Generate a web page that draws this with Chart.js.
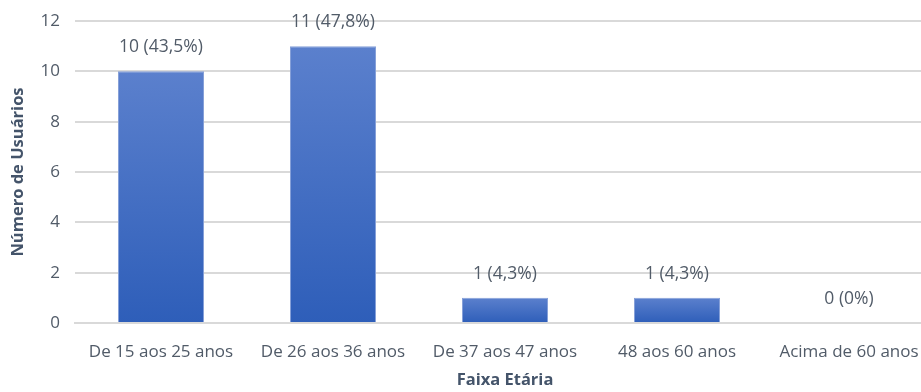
<!DOCTYPE html>
<html>
<head>
<meta charset="utf-8">
<script src="https://cdn.jsdelivr.net/npm/chart.js@4.4.0/dist/chart.umd.min.js"></script>
<style>
  html, body { margin: 0; padding: 0; background: #fff; overflow: hidden; }
  #wrap { width: 935px; height: 392px; }
</style>
</head>
<body>
<div id="wrap"><canvas id="faixaChart" width="935" height="392"></canvas></div>
<script>
// dados
var faixas = ['De 15 aos 25 anos', 'De 26 aos 36 anos', 'De 37 aos 47 anos', '48 aos 60 anos', 'Acima de 60 anos'];
var usuarios = [10, 11, 1, 1, 0];
var percentuais = ['43,5%', '47,8%', '4,3%', '4,3%', '0%'];

var corTexto = '#515b68';
var corTitulo = '#44546a';
var fonte = "'Open Sans', sans-serif";

// gradiente por barra (mais claro no topo), usando a escala y
function corBarra(context) {
    var chart = context.chart;
    var y = chart.scales.y;
    if (!y || context.dataIndex === undefined) return '#4470c4';
    var topo = y.getPixelForValue(usuarios[context.dataIndex]);
    var base = y.getPixelForValue(0);
    if (!isFinite(topo) || topo === base) return '#4470c4';
    var g = chart.ctx.createLinearGradient(0, topo, 0, base);
    g.addColorStop(0, '#5b80cd');
    g.addColorStop(1, '#2e5eb9');
    return g;
}

// rotulos em cima das barras
var rotulos = {
    id: 'rotulos',
    afterDatasetsDraw: function (chart) {
        var ctx = chart.ctx;
        var meta = chart.getDatasetMeta(0);
        ctx.save();
        ctx.font = "17.5px " + fonte;
        ctx.fillStyle = corTexto;
        ctx.textAlign = 'center';
        ctx.textBaseline = 'middle';
        meta.data.forEach(function (bar, i) {
            ctx.fillText(usuarios[i] + ' (' + percentuais[i] + ')', bar.x, bar.y - 24);
        });
        ctx.restore();
    }
};

var ctx = document.getElementById('faixaChart').getContext('2d');
new Chart(ctx, {
    type: 'bar',
    data: {
        labels: faixas,
        datasets: [{
            data: usuarios,
            backgroundColor: corBarra,
            borderColor: '#86a0d8',
            borderWidth: 1,
            barPercentage: 0.5,
            categoryPercentage: 1
        }]
    },
    options: {
        responsive: false,
        animation: false,
        layout: { autoPadding: false, padding: { top: 21, right: 0, left: 0, bottom: 0 } },
        plugins: {
            legend: { display: false },
            tooltip: { enabled: false }
        },
        scales: {
            x: {
                grid: { display: false },
                border: { color: '#d9d9d9', width: 2 },
                ticks: {
                    color: corTexto,
                    font: { family: fonte, size: 17 },
                    maxRotation: 0,
                    autoSkip: false,
                    padding: 11
                },
                title: {
                    display: true,
                    text: 'Faixa Etária',
                    color: corTitulo,
                    font: { family: fonte, size: 16.5, weight: 'bold' },
                    padding: { top: 4, bottom: 2 }
                },
                afterFit: function (scale) { scale.height = 69; }
            },
            y: {
                min: 0,
                max: 12,
                ticks: {
                    stepSize: 2,
                    color: corTexto,
                    font: { family: fonte, size: 17 },
                    padding: 15
                },
                grid: { color: '#d9d9d9', lineWidth: 2, drawTicks: false },
                border: { display: false },
                title: {
                    display: true,
                    text: 'Número de Usuários',
                    color: corTitulo,
                    font: { family: fonte, size: 16.5, weight: 'bold' },
                    padding: { top: 8, bottom: 0 }
                },
                afterFit: function (scale) {
                    scale.width = 75;
                    scale.paddingTop = 0;
                    scale.paddingBottom = 0;
                }
            }
        }
    },
    plugins: [rotulos]
});
</script>
</body>
</html>
